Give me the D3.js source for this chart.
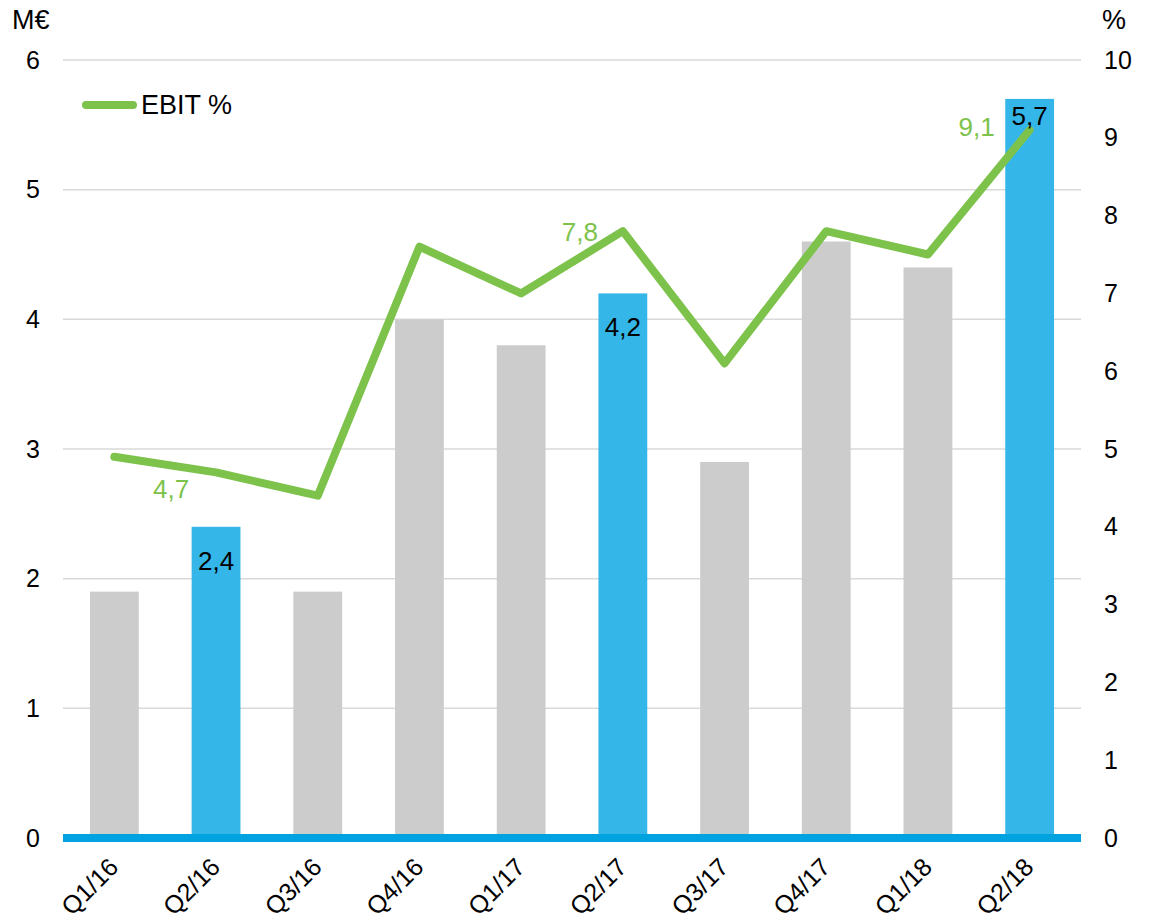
<!DOCTYPE html>
<html>
<head>
<meta charset="utf-8">
<script src="https://d3js.org/d3.v7.min.js"></script>
<style>
  body { margin: 0; background: #fff; }
  text { font-family: "Liberation Sans", Arial, sans-serif; }
</style>
</head>
<body>
<div id="chart"></div>
<script>
// quarters and values
var quarters = ["Q1/16", "Q2/16", "Q3/16", "Q4/16", "Q1/17", "Q2/17", "Q3/17", "Q4/17", "Q1/18", "Q2/18"];
var ebit = [1.9, 2.4, 1.9, 4.0, 3.8, 4.2, 2.9, 4.6, 4.4, 5.7];        // M€
var ebitPct = [4.9, 4.7, 4.4, 7.6, 7.0, 7.8, 6.1, 7.8, 7.5, 9.1];    // %
var highlighted = ["Q2/16", "Q2/17", "Q2/18"];
var leftTicks = [0, 1, 2, 3, 4, 5, 6];
var rightTicks = [0, 1, 2, 3, 4, 5, 6, 7, 8, 9, 10];

var width = 1149, height = 920;
var svg = d3.select("#chart").append("svg")
  .attr("width", width)
  .attr("height", height);

var x = d3.scaleBand().domain(quarters).range([63, 1081])
  .paddingInner(0.52).paddingOuter(0.265);
var yL = d3.scaleLinear().domain([0, 6]).range([838, 60]);
var yR = d3.scaleLinear().domain([0, 10]).range([838, 60]);

var fmt = function(v) { return d3.format(".1f")(v).replace(".", ","); };

// gridlines
svg.append("g").selectAll("line")
  .data(leftTicks.filter(function(d) { return d > 0; }))
  .enter().append("line")
  .attr("x1", 63).attr("x2", 1081)
  .attr("y1", function(d) { return yL(d); })
  .attr("y2", function(d) { return yL(d); })
  .attr("stroke", "#d9d9d9")
  .attr("stroke-width", 1.5);

// left axis
var leftAxis = d3.axisLeft(yL).tickValues(leftTicks).tickFormat(d3.format("d"))
  .tickSize(0).tickPadding(0);
var gL = svg.append("g").attr("transform", "translate(40,0)").call(leftAxis);
gL.select(".domain").remove();
gL.selectAll("text").attr("font-size", 25).attr("fill", "#000")
  .attr("font-family", "Liberation Sans, Arial, sans-serif");

// right axis
var rightAxis = d3.axisRight(yR).tickValues(rightTicks).tickSize(0).tickPadding(0);
var gR = svg.append("g").attr("transform", "translate(1104,0)").call(rightAxis);
gR.select(".domain").remove();
gR.selectAll("text").attr("font-size", 25).attr("fill", "#000")
  .attr("font-family", "Liberation Sans, Arial, sans-serif");

svg.append("text").attr("x", 12).attr("y", 29).attr("font-size", 27).text("M€");
svg.append("text").attr("x", 1102).attr("y", 29).attr("font-size", 27).text("%");

// bars
svg.append("g").selectAll("rect")
  .data(quarters)
  .enter().append("rect")
  .attr("x", function(d) { return x(d); })
  .attr("width", x.bandwidth())
  .attr("y", function(d, i) { return yL(ebit[i]); })
  .attr("height", function(d, i) { return yL(0) - yL(ebit[i]); })
  .attr("fill", function(d) { return highlighted.indexOf(d) >= 0 ? "#35b6e9" : "#cccccc"; });

// baseline
svg.append("line")
  .attr("x1", 63).attr("x2", 1081)
  .attr("y1", yL(0)).attr("y2", yL(0))
  .attr("stroke", "#00a3e0")
  .attr("stroke-width", 8);

// x axis labels
var bottomAxis = d3.axisBottom(x).tickSize(0).tickPadding(0);
var gB = svg.append("g").attr("transform", "translate(0,846)").call(bottomAxis);
gB.select(".domain").remove();
gB.selectAll("text")
  .attr("font-size", 25).attr("fill", "#000")
  .attr("font-family", "Liberation Sans, Arial, sans-serif")
  .attr("text-anchor", "end")
  .attr("dy", "0.71em")
  .attr("transform", "translate(-7,10) rotate(-45)");

// EBIT % line
var line = d3.line()
  .x(function(d, i) { return x(quarters[i]) + x.bandwidth() / 2; })
  .y(function(d) { return yR(d); });

svg.append("path")
  .datum(ebitPct)
  .attr("d", line)
  .attr("fill", "none")
  .attr("stroke", "#7dc24b")
  .attr("stroke-width", 8)
  .attr("stroke-linecap", "round")
  .attr("stroke-linejoin", "round");

// bar value labels (highlighted quarters)
svg.append("g").selectAll("text")
  .data(quarters.filter(function(d) { return highlighted.indexOf(d) >= 0; }))
  .enter().append("text")
  .attr("x", function(d) { return x(d) + x.bandwidth() / 2; })
  .attr("y", function(d) {
    var v = ebit[quarters.indexOf(d)];
    return yL(v) + (d === "Q2/18" ? 26 : 43);
  })
  .attr("text-anchor", "middle")
  .attr("font-size", 26)
  .attr("fill", "#000")
  .text(function(d) { return fmt(ebit[quarters.indexOf(d)]); });

// line value labels
var lineLabelOffsets = { "Q2/16": [-45, 26], "Q2/17": [-43, 10], "Q2/18": [-53, 6] };
svg.append("g").selectAll("text")
  .data(highlighted)
  .enter().append("text")
  .attr("x", function(d) { return x(d) + x.bandwidth() / 2 + lineLabelOffsets[d][0]; })
  .attr("y", function(d) { return yR(ebitPct[quarters.indexOf(d)]) + lineLabelOffsets[d][1]; })
  .attr("text-anchor", "middle")
  .attr("font-size", 26)
  .attr("fill", "#7dc24b")
  .text(function(d) { return fmt(ebitPct[quarters.indexOf(d)]); });

// legend
svg.append("line")
  .attr("x1", 86).attr("x2", 133)
  .attr("y1", 105).attr("y2", 105)
  .attr("stroke", "#7dc24b")
  .attr("stroke-width", 8)
  .attr("stroke-linecap", "round");
svg.append("text").attr("x", 141).attr("y", 114).attr("font-size", 27).text("EBIT %");
</script>
</body>
</html>
